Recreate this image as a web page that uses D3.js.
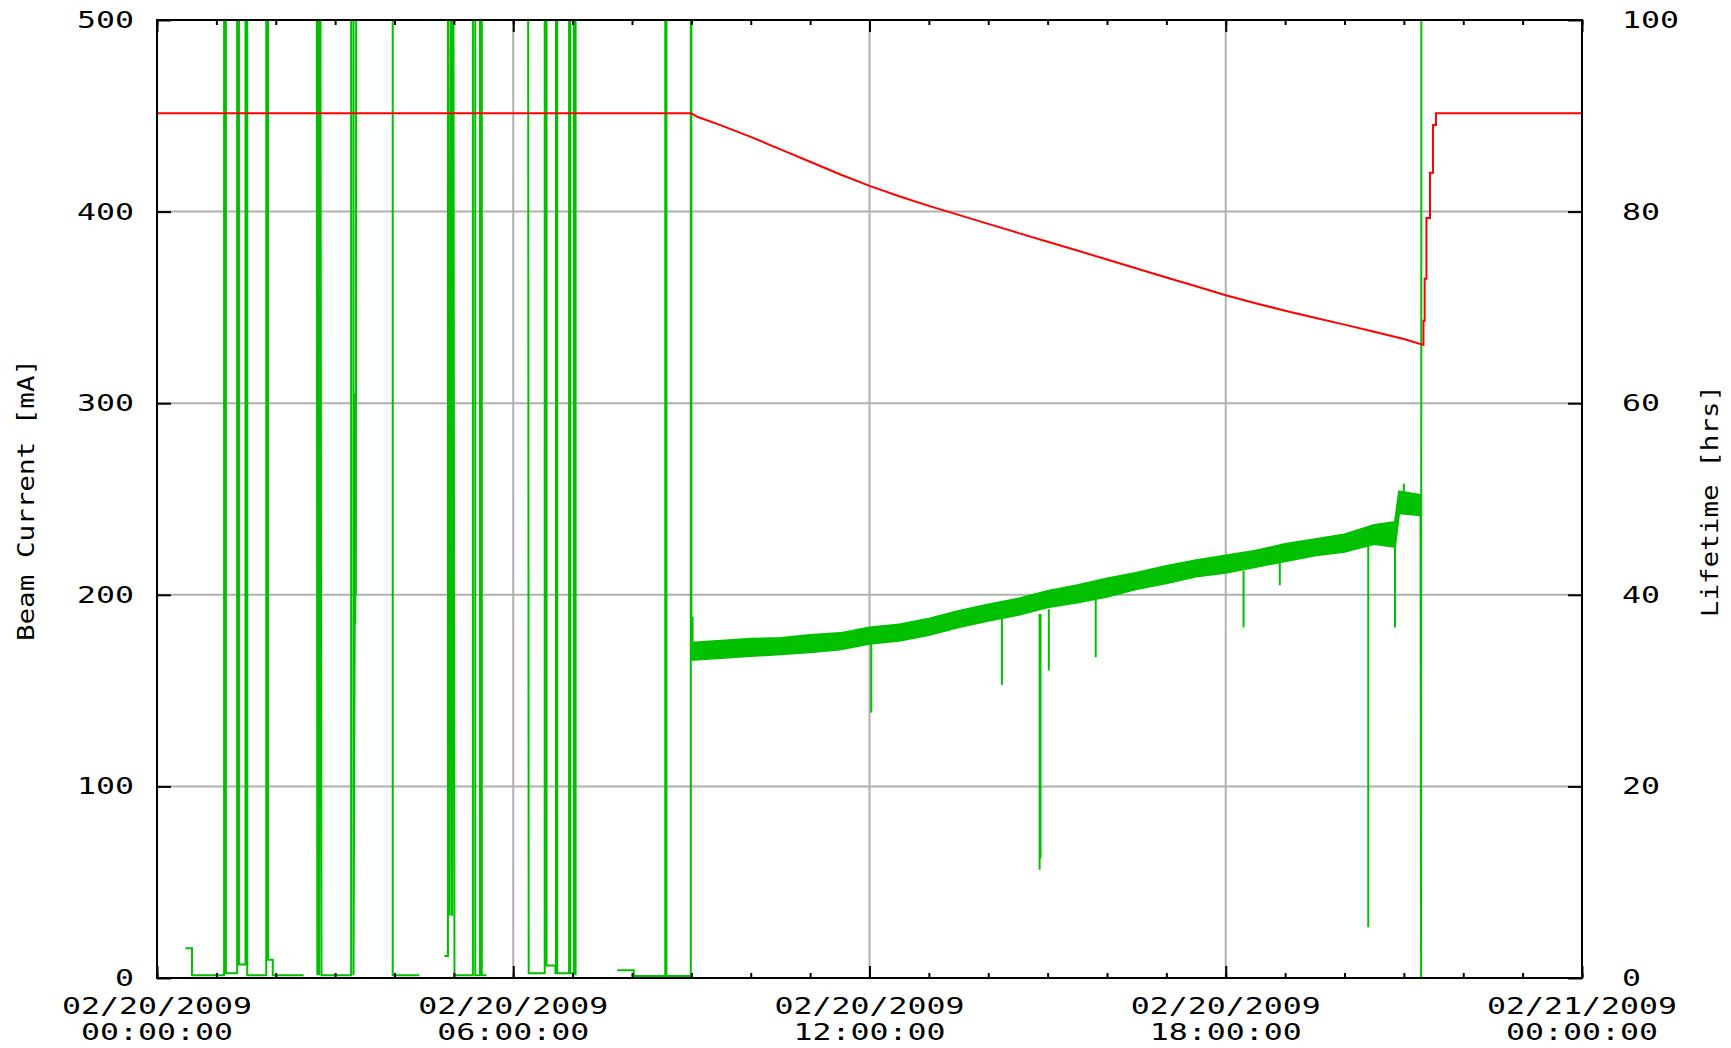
<!DOCTYPE html>
<html>
<head>
<meta charset="utf-8">
<script src="https://cdn.jsdelivr.net/npm/d3@7"></script>
<style>
  body { margin: 0; background: #fff; }
  .chart text { font-family: "DejaVu Sans Mono", "Liberation Mono", monospace; font-size: 23px; fill: #000; }
</style>
</head>
<body>
<div class="chart"></div>
<script>
// beam current [mA], left axis (hours after 02/20/2009 00:00)
var redHours  = [0, 9.0, 9.1, 9.5, 10.0, 10.5, 11.0, 11.5, 12.0, 12.5, 13.0, 13.5, 14.0, 14.5, 15.0, 15.5, 16.0, 16.5, 17.0, 17.5, 18.0, 18.5, 19.0, 19.5, 20.0, 20.5, 21.0, 21.33,
                 21.33, 21.35, 21.35, 21.38, 21.38, 21.44, 21.44, 21.49, 21.49, 21.54, 21.54, 24];
var redValues = [451.3, 451.3, 449.5, 445, 439, 432.5, 426, 419.5, 413.4, 408, 403, 398.3, 393.6, 388.9, 384.3, 379.7, 375, 370.3, 365.6, 361, 356.3, 352.2, 348.3, 344.6, 341, 337.3, 333.5, 330.4,
                 343, 343, 365, 365, 396.7, 396.7, 420.3, 420.3, 445.2, 445.2, 451.3, 451.3];

// lifetime [hrs], right axis; null = no data, 120 = off the top of the scale
var greenHours  = [0.48, 0.59, 0.59, 1.13, 1.13, 1.16, 1.16, 1.35, 1.35, 1.38, 1.38, 1.49, 1.49, 1.52, 1.52, 1.84, 1.84, 1.87, 1.87, 1.95, 1.95, 2.47, 2.5,
                   2.69, 2.70, 2.71, 2.73, 2.75, 2.77, 3.27, 3.27, 3.31, 3.31, 3.33, 3.335, 3.34, 3.345, 3.35, 3.355, 3.97, 3.97, 4.42, 4.5,
                   4.84, 4.90, 4.90, 4.93, 4.95, 4.97, 4.99, 5.01, 5.32, 5.32, 5.36, 5.36, 5.44, 5.44, 5.47, 5.47, 5.55, 5.6,
                   6.25, 6.26, 6.53, 6.53, 6.56, 6.56, 6.71, 6.71, 6.72, 6.72, 6.74, 6.74, 6.94, 6.94, 6.96, 6.96, 7.02, 7.02, 7.05, 7.05, 7.1,
                   7.75, 8.03, 8.03, 8.56, 8.56, 8.58, 8.58, 8.99, 8.99, 9.0, 9.0, 9.1,
                   21.28, 21.29, 21.29, 21.295];
var greenValues = [3.1, 3.1, 0.3, 0.3, 120, 120, 0.5, 0.5, 120, 120, 1.4, 1.4, 120, 120, 0.3, 0.3, 120, 120, 1.9, 1.9, 0.3, 0.3, null,
                   120, 0.3, 120, 0.3, 120, 0.3, 0.3, 120, 120, 0.3, 37, 61, 37, 61, 40, 120, 120, 0.3, 0.3, null,
                   2.3, 2.3, 120, 6.5, 120, 6.5, 120, 0.3, 0.3, 120, 120, 0.3, 0.3, 120, 120, 0.3, 0.3, null,
                   120, 0.5, 0.5, 120, 120, 1.3, 1.3, 0.5, 0.5, 120, 120, 0.5, 0.5, 120, 120, 0.5, 0.5, 120, 120, 0.3, null,
                   0.8, 0.8, 0.2, 0.2, 120, 120, 0.2, 0.2, 120, 120, 34, null,
                   49, 0, 0, 120];

// noisy lifetime band after 09:00 (lower / upper edge, hrs)
var bandHours = [9.0, 9.5, 10.0, 10.5, 11.0, 11.5, 12.0, 12.5, 13.0, 13.5, 14.0, 14.5, 15.0, 15.5, 16.0, 16.5, 17.0, 17.5, 18.0, 18.5, 19.0, 19.5, 20.0, 20.5, 20.85, 20.92, 21.29];
var bandLow   = [33.2, 33.4, 33.6, 33.8, 34.0, 34.3, 34.9, 35.2, 35.8, 36.6, 37.3, 37.9, 38.7, 39.2, 39.8, 40.6, 41.2, 41.9, 42.3, 42.9, 43.5, 44.1, 44.5, 45.3, 45.0, 48.5, 48.3];
var bandHigh  = [35.0, 35.2, 35.4, 35.5, 35.8, 36.0, 36.6, 36.9, 37.5, 38.3, 39.0, 39.6, 40.4, 41.0, 41.7, 42.3, 43.0, 43.6, 44.1, 44.6, 45.3, 45.8, 46.3, 47.3, 47.6, 50.8, 50.4];

// single-sample dips and jumps in the band
var spikeHours = [9.02, 12.03, 14.23, 14.865, 14.88, 15.02, 15.81, 18.30, 18.91, 20.40, 20.85, 21.0];
var spikeFrom  = [34.5, 35.0, 37.5, 38.0, 38.0, 38.5, 39.5, 42.5, 43.5, 45.5, 45.5, 50.0];
var spikeTo    = [37.7, 27.7, 30.6, 11.3, 12.5, 32.1, 33.5, 36.6, 41.0, 5.3, 36.6, 51.6];

var leftTicks  = [0, 100, 200, 300, 400, 500];
var rightTicks = [0, 20, 40, 60, 80, 100];
var startDay = new Date(2009, 1, 20, 0, 0, 0);
var endDay   = new Date(2009, 1, 21, 0, 0, 0);

var margin = {top: 20, right: 149, bottom: 70, left: 157},
    width = 1731 - margin.left - margin.right,
    height = 1048 - margin.top - margin.bottom;

function toDate(h) { return new Date(startDay.getTime() + h * 3600e3); }

var x = d3.scaleTime().domain([startDay, endDay]).range([0, width]);
var yL = d3.scaleLinear().domain([0, 500]).range([height, 0]);
var yR = d3.scaleLinear().domain([0, 100]).range([height, 0]);

var svg = d3.select(".chart").append("svg")
    .attr("width", 1731)
    .attr("height", 1048)
  .append("g")
    .attr("transform", "translate(" + margin.left + "," + margin.top + ")");

svg.append("clipPath").attr("id", "plotclip")
  .append("rect").attr("width", width).attr("height", height);

// grid
var majorX = x.ticks(d3.timeHour.every(6));
svg.append("g").selectAll("line")
    .data(majorX.slice(1, -1))
    .enter().append("line")
    .attr("x1", d => x(d)).attr("x2", d => x(d))
    .attr("y1", 0).attr("y2", height)
    .attr("stroke", "#b0b0b0").attr("stroke-width", 2);
svg.append("g").selectAll("line")
    .data(leftTicks.slice(1, -1))
    .enter().append("line")
    .attr("x1", 0).attr("x2", width)
    .attr("y1", d => yL(d)).attr("y2", d => yL(d))
    .attr("stroke", "#b0b0b0").attr("stroke-width", 2);

var plot = svg.append("g").attr("clip-path", "url(#plotclip)");

// lifetime
var green = "#00c000";
var greenPts = greenHours.map((h, i) => ({t: toDate(h), v: greenValues[i]}));
plot.append("path")
    .datum(greenPts)
    .attr("fill", "none")
    .attr("stroke", green)
    .attr("stroke-width", 2)
    .attr("d", d3.line().defined(d => d.v !== null).x(d => x(d.t)).y(d => yR(d.v)));

var bandPts = bandHours.map((h, i) => ({t: toDate(h), lo: bandLow[i], hi: bandHigh[i]}));
plot.append("path")
    .datum(bandPts)
    .attr("fill", green)
    .attr("stroke", green)
    .attr("stroke-width", 2)
    .attr("d", d3.area().x(d => x(d.t)).y0(d => yR(d.lo)).y1(d => yR(d.hi)));

plot.append("g").selectAll("line")
    .data(spikeHours)
    .enter().append("line")
    .attr("x1", d => x(toDate(d))).attr("x2", d => x(toDate(d)))
    .attr("y1", (d, i) => yR(spikeFrom[i]))
    .attr("y2", (d, i) => yR(spikeTo[i]))
    .attr("stroke", green).attr("stroke-width", 2);

// beam current
var redPts = redHours.map((h, i) => ({t: toDate(h), v: redValues[i]}));
plot.append("path")
    .datum(redPts)
    .attr("fill", "none")
    .attr("stroke", "#ff0000")
    .attr("stroke-width", 2)
    .attr("d", d3.line().x(d => x(d.t)).y(d => yL(d.v)));

// ticks (gnuplot style, pointing inwards)
var tickCol = "#000";
svg.append("g").attr("transform", "translate(0," + height + ")")
    .call(d3.axisBottom(x).ticks(d3.timeHour.every(1)).tickSize(-5).tickFormat(""));
svg.append("g")
    .call(d3.axisTop(x).ticks(d3.timeHour.every(1)).tickSize(-5).tickFormat(""));
svg.append("g").attr("transform", "translate(0," + height + ")")
    .call(d3.axisBottom(x).ticks(d3.timeHour.every(6)).tickSize(-12).tickFormat(""));
svg.append("g")
    .call(d3.axisTop(x).ticks(d3.timeHour.every(6)).tickSize(-12).tickFormat(""));
svg.append("g")
    .call(d3.axisLeft(yL).tickValues(leftTicks).tickSize(-14).tickFormat(""));
svg.append("g").attr("transform", "translate(" + width + ",0)")
    .call(d3.axisRight(yR).tickValues(rightTicks).tickSize(-14).tickFormat(""));
svg.selectAll(".domain").remove();
svg.selectAll(".tick line").attr("stroke", tickCol).attr("stroke-width", 2);

// frame
svg.append("rect")
    .attr("width", width).attr("height", height)
    .attr("fill", "none").attr("stroke", "#000").attr("stroke-width", 2);

// labels
function stretch(sel, adv) {
  sel.attr("textLength", function() { return this.textContent.length * adv; })
     .attr("lengthAdjust", "spacingAndGlyphs");
}

svg.append("g").selectAll("text")
    .data(leftTicks)
    .enter().append("text")
    .attr("x", -23).attr("y", d => yL(d))
    .attr("text-anchor", "end").attr("dominant-baseline", "central")
    .text(d => d)
    .call(stretch, 19);

svg.append("g").selectAll("text")
    .data(rightTicks)
    .enter().append("text")
    .attr("x", width + 40).attr("y", d => yR(d))
    .attr("dominant-baseline", "central")
    .text(d => d)
    .call(stretch, 19);

var fmtDate = d3.timeFormat("%m/%d/%Y"), fmtTime = d3.timeFormat("%H:%M:%S");
var xl = svg.append("g").selectAll("g")
    .data(majorX)
    .enter().append("g")
    .attr("transform", d => "translate(" + x(d) + "," + height + ")");
xl.append("text").attr("y", 28).attr("text-anchor", "middle").attr("dominant-baseline", "central")
    .text(d => fmtDate(d)).call(stretch, 19);
xl.append("text").attr("y", 54).attr("text-anchor", "middle").attr("dominant-baseline", "central")
    .text(d => fmtTime(d)).call(stretch, 19);

svg.append("text")
    .attr("transform", "translate(" + (26 - margin.left) + "," + (500 - margin.top) + ") rotate(-90)")
    .attr("text-anchor", "middle").attr("dominant-baseline", "central")
    .text("Beam Current [mA]").call(stretch, 16.6);
svg.append("text")
    .attr("transform", "translate(" + (1710 - margin.left) + "," + (501 - margin.top) + ") rotate(-90)")
    .attr("text-anchor", "middle").attr("dominant-baseline", "central")
    .text("Lifetime [hrs]").call(stretch, 16.6);
</script>
</body>
</html>
